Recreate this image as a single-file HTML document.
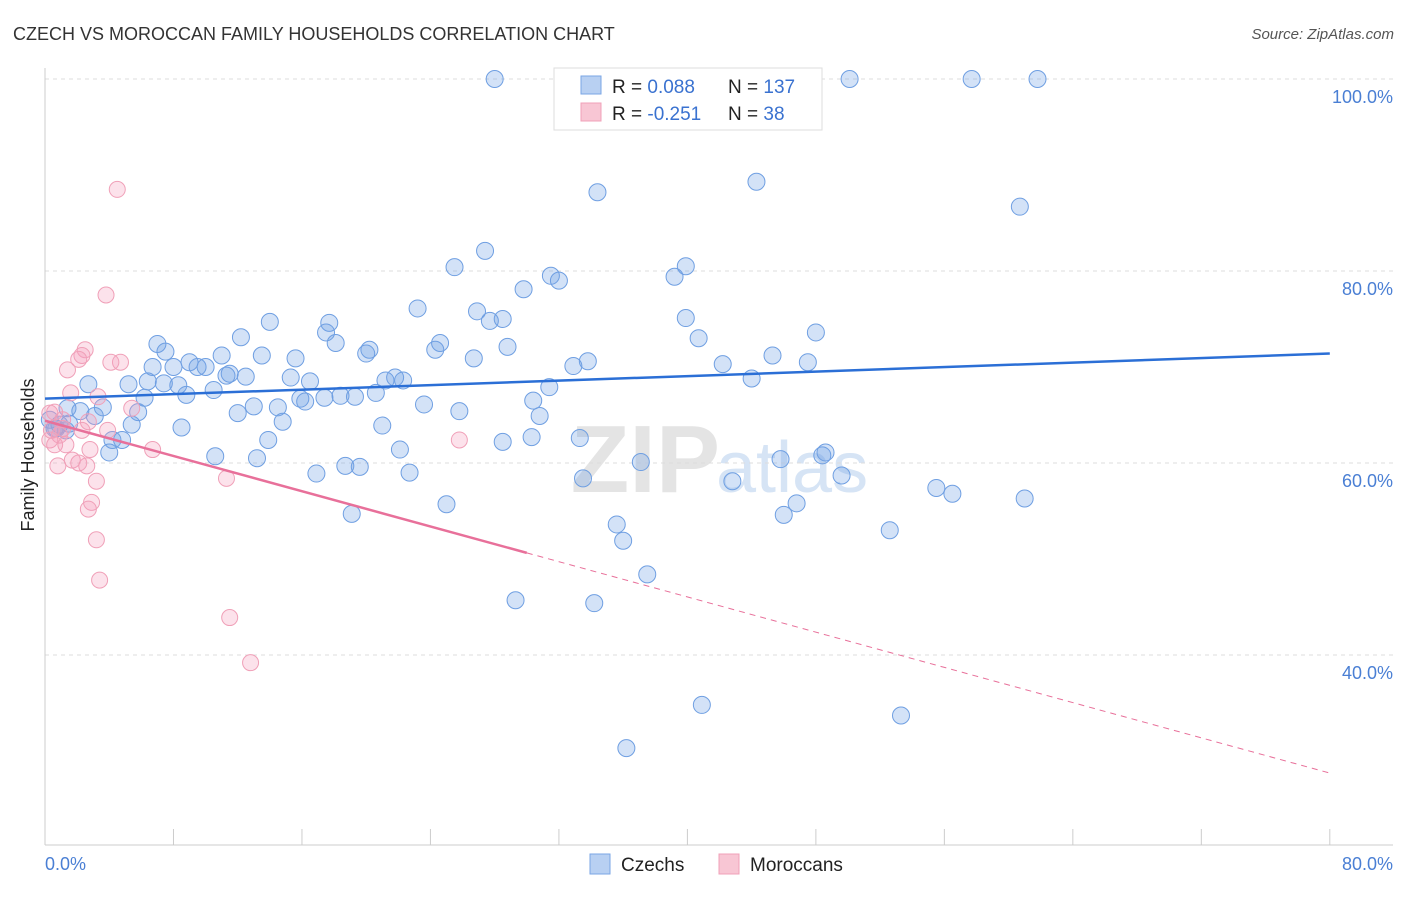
<!DOCTYPE html>
<html><head><meta charset="utf-8"><style>
body{margin:0;background:#fff;font-family:"Liberation Sans",sans-serif;}
svg text{font-family:"Liberation Sans",sans-serif;}
</style></head><body>
<svg id="chart" width="1406" height="892">
<text x="13" y="40" font-size="18" fill="#333">CZECH VS MOROCCAN FAMILY HOUSEHOLDS CORRELATION CHART</text>
<text x="1394" y="39" font-size="15" fill="#555" font-style="italic" text-anchor="end">Source: ZipAtlas.com</text>
<text x="720" y="492" font-size="96" fill="#e4e4e4" text-anchor="end" font-family="Liberation Serif" font-weight="bold">ZIP</text>
<text x="716" y="492" font-size="72" fill="#d6e4f5">atlas</text>
<g id="grid"></g><g id="axes"></g><g id="pts"></g><g id="trend"></g>
<text transform="translate(34,455) rotate(-90)" font-size="18" fill="#222" text-anchor="middle">Family Households</text>
<text x="45" y="870" font-size="18" fill="#4a7fd4">0.0%</text>
<text x="1393" y="870" font-size="18" fill="#4a7fd4" text-anchor="end">80.0%</text>
<g>
<rect x="554" y="68" width="268" height="62" fill="#fff" stroke="#ddd"/>
<rect x="581" y="76" width="20" height="18" fill="#b8d0f2" stroke="#7aa6e4"/>
<rect x="581" y="103" width="20" height="18" fill="#f8c6d4" stroke="#f0a0b8"/>
<text x="612" y="93" font-size="19" fill="#222">R = <tspan fill="#3a72d0">0.088</tspan></text>
<text x="728" y="93" font-size="19" fill="#222">N = <tspan fill="#3a72d0">137</tspan></text>
<text x="612" y="120" font-size="19" fill="#222">R = <tspan fill="#3a72d0">-0.251</tspan></text>
<text x="728" y="120" font-size="19" fill="#222">N = <tspan fill="#3a72d0"> 38</tspan></text>
</g>
<g>
<rect x="590" y="854" width="20" height="20" fill="#b8d0f2" stroke="#7aa6e4"/>
<text x="621" y="871" font-size="19" fill="#222">Czechs</text></g>
<g>
<rect x="719" y="854" width="20" height="20" fill="#f8c6d4" stroke="#f0a0b8"/>
<text x="750" y="871" font-size="19" fill="#222">Moroccans</text></g>
</svg>
<script>
const czX=[28.0,41.6,50.1,57.7,61.8,34.4,44.3,60.7,27.4,25.5,39.9,31.5,32.0,39.2,29.8,23.2,26.9,27.7,28.5,39.9,14.0,17.7,17.5,12.2,7.0,40.7,48.0,18.1,24.6,28.8,20.2,20.0,24.3,7.5,13.5,11.0,15.6,26.7,45.3,33.8,32.9,42.2,47.5,6.7,8.0,9.0,9.5,10.0,11.5,11.3,12.5,15.3,16.5,21.2,21.8,22.3,2.7,5.2,6.4,7.4,8.3,10.5,8.8,31.4,44.0,20.6,6.2,17.4,18.4,19.3,15.9,16.2,30.4,14.5,13.0,23.6,25.8,12.0,1.4,3.6,5.8,2.2,3.1,14.8,30.8,1.5,0.7,8.5,5.4,21.0,4.8,13.9,28.5,30.3,33.3,4.0,4.2,22.1,10.6,13.2,18.7,19.6,22.7,16.9,37.1,45.8,48.4,48.6,33.5,42.8,49.6,25.0,19.1,35.6,36.0,46.8,46.0,52.6,55.5,56.5,61.0,37.5,29.3,34.2,40.9,53.3,36.2,0.6,0.9,1.3,0.3];
const czY=[100,100,100,100,100,88.2,89.3,86.7,82.1,80.4,80.5,79.5,79.0,79.4,78.1,76.1,75.8,74.8,75.0,75.1,74.7,74.6,73.6,73.1,72.4,73.0,73.6,72.5,72.5,72.1,71.8,71.4,71.8,71.6,71.2,71.2,70.9,70.9,71.2,70.6,70.1,70.3,70.5,70.0,70.0,70.5,70.0,70.0,69.3,69.1,69.0,68.9,68.5,68.6,68.9,68.6,68.2,68.2,68.5,68.3,68.1,67.6,67.1,67.9,68.8,67.3,66.8,66.8,67.0,66.9,66.7,66.4,66.5,65.8,65.9,66.1,65.4,65.2,65.7,65.8,65.3,65.4,64.9,64.3,64.9,64.1,63.6,63.7,64.0,63.9,62.4,62.4,62.2,62.7,62.6,61.1,62.4,61.4,60.7,60.5,59.7,59.6,59.0,58.9,60.1,60.4,60.8,61.1,58.4,58.1,58.7,55.7,54.7,53.6,51.9,55.8,54.6,53.0,57.4,56.8,56.3,48.4,45.7,45.4,34.8,33.7,30.3,63.6,64.0,63.4,64.5];
const moX=[4.5,3.8,2.5,2.3,4.7,4.1,2.1,1.4,1.6,3.3,5.4,0.6,0.3,1.1,2.7,3.9,2.3,0.9,0.3,0.6,2.8,6.7,1.3,1.7,2.1,2.6,0.8,11.3,3.2,2.9,2.7,3.2,3.4,11.5,12.8,25.8,0.4,1.1];
const moY=[88.5,77.5,71.8,71.2,70.5,70.5,70.8,69.7,67.3,66.9,65.7,65.3,65.2,64.5,64.3,63.4,63.4,62.9,62.4,61.9,61.4,61.4,61.9,60.3,60.0,59.7,59.7,58.4,58.1,55.9,55.2,52.0,47.8,43.9,39.2,62.4,63.4,63.6];
const yTicks=[100,80,60,40];
const yTickLabels=["100.0%","80.0%","60.0%","40.0%"];
const xTicks=[0,8,16,24,32,40,48,56,64,72,80];
const czTrend=[66.7,71.4]; // value at x=0 and x=80
const moTrend=[64.4,27.7];
const moSolidEnd=30;
const sx=v=>45+v*16.06, sy=v=>79+(100-v)*9.6;
const NS="http://www.w3.org/2000/svg";
function mk(par,tag,at){const e=document.createElementNS(NS,tag);for(const k in at)e.setAttribute(k,at[k]);document.getElementById(par).appendChild(e);return e;}
yTicks.forEach((t,i)=>{
 const l=mk('grid','line',{x1:45,x2:1393,y1:sy(t),y2:sy(t),stroke:'#ddd','stroke-dasharray':'4,4'});
 
 
 const tx=mk('grid','text',{x:1393,y:sy(t)+24,'font-size':18,fill:'#4a7fd4','text-anchor':'end'});
 tx.textContent=yTickLabels[i];
 
 
});
let a=mk('axes','line',{x1:45,x2:45,y1:68,y2:845,stroke:'#ccc'});


a=mk('axes','line',{x1:45,x2:1393,y1:845,y2:845,stroke:'#ccc'});


xTicks.forEach(t=>{const l=mk('axes','line',{x1:sx(t),x2:sx(t),y1:829,y2:845,stroke:'#ccc'});
 
 });
czX.forEach((x,i)=>{const c=mk('pts','circle',{cx:sx(x),cy:sy(czY[i]),r:8.5,fill:'rgba(110,160,230,0.3)',stroke:'#6f9fe2','stroke-width':1});
 
 });
moX.forEach((x,i)=>{const c=mk('pts','circle',{cx:sx(x),cy:sy(moY[i]),r:8,fill:'rgba(245,160,190,0.3)',stroke:'#f0a0b8','stroke-width':1});
 
 });
let t=mk('trend','line',{x1:sx(0),y1:sy(czTrend[0]),x2:sx(80),y2:sy(czTrend[1]),stroke:'#2b6fd6','stroke-width':2.5});


const mv=x=>moTrend[0]+(moTrend[1]-moTrend[0])*x/80;
t=mk('trend','line',{x1:sx(0),y1:sy(mv(0)),x2:sx(moSolidEnd),y2:sy(mv(moSolidEnd)),stroke:'#e8709a','stroke-width':2.5});


t=mk('trend','line',{x1:sx(moSolidEnd),y1:sy(mv(moSolidEnd)),x2:sx(80),y2:sy(mv(80)),stroke:'#e8709a','stroke-width':1,'stroke-dasharray':'6,5'});


</script>
</body></html>
